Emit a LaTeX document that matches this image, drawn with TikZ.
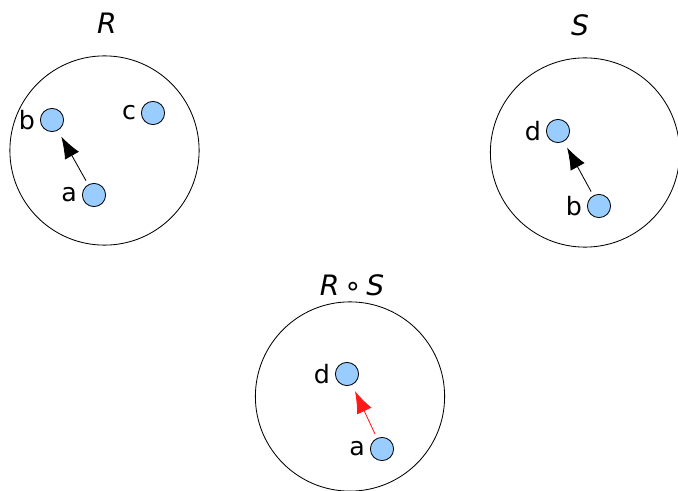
\documentclass[tikz,border=0pt]{standalone}
\usepackage{fontspec}
\setmainfont{DejaVu Sans}
\usetikzlibrary{positioning, arrows.meta}
\definecolor{dotblue}{RGB}{153,204,255}

\begin{document}
\begin{tikzpicture}[
    x=0.025cm,
    y=-0.025cm,
    >={Latex[length=0.55cm, width=0.4cm]},
    set/.style={circle, draw, line width=0.6pt, minimum size=4.73cm, inner sep=0pt},
    elem/.style={circle, draw, line width=0.6pt, fill=dotblue, minimum size=0.58cm, inner sep=0pt},
    rel/.style={->, line width=0.6pt, shorten <=0.11cm, shorten >=0.17cm},
    title/.style={font=\fontsize{20}{24}\selectfont\itshape},
    every node/.style={font=\fontsize{18}{22}\selectfont}
]
\useasboundingbox (0,0) rectangle (678,491);

%---------------- Relation R ----------------
\node[set] (R) at (104.5,150.5) {};
\node[title] (Rname) at (107,23) {R};
\node[elem] (Ra) at (94,195) {};
\node[elem] (Rb) at (52,120) {};
\node[elem] (Rc) at (153,113) {};
\node[left=0pt of Ra] {a};
\node[left=0pt of Rb] {b};
\node[left=0pt of Rc] {c};
\draw[rel] (Ra) -- (Rb);

%---------------- Relation S ----------------
\node[set] (S) at (585,152.5) {};
\node[title] (Sname) at (580,25) {S};
\node[elem] (Sd) at (558,131) {};
\node[elem] (Sb) at (599,206) {};
\node[left=0pt of Sd] {d};
\node[left=0pt of Sb] {b};
\draw[rel] (Sb) -- (Sd);

%---------------- Composition R o S ----------------
\node[set] (RS) at (350,396.5) {};
\node[title] (RSname) at (352,285) {R\,{\upshape∘}\,S};
\node[elem] (RSd) at (347,374) {};
\node[elem] (RSa) at (382,449) {};
\node[left=0pt of RSd] {d};
\node[left=0pt of RSa] {a};
\draw[rel, red!90] (RSa) -- (RSd);
\end{tikzpicture}
\end{document}
